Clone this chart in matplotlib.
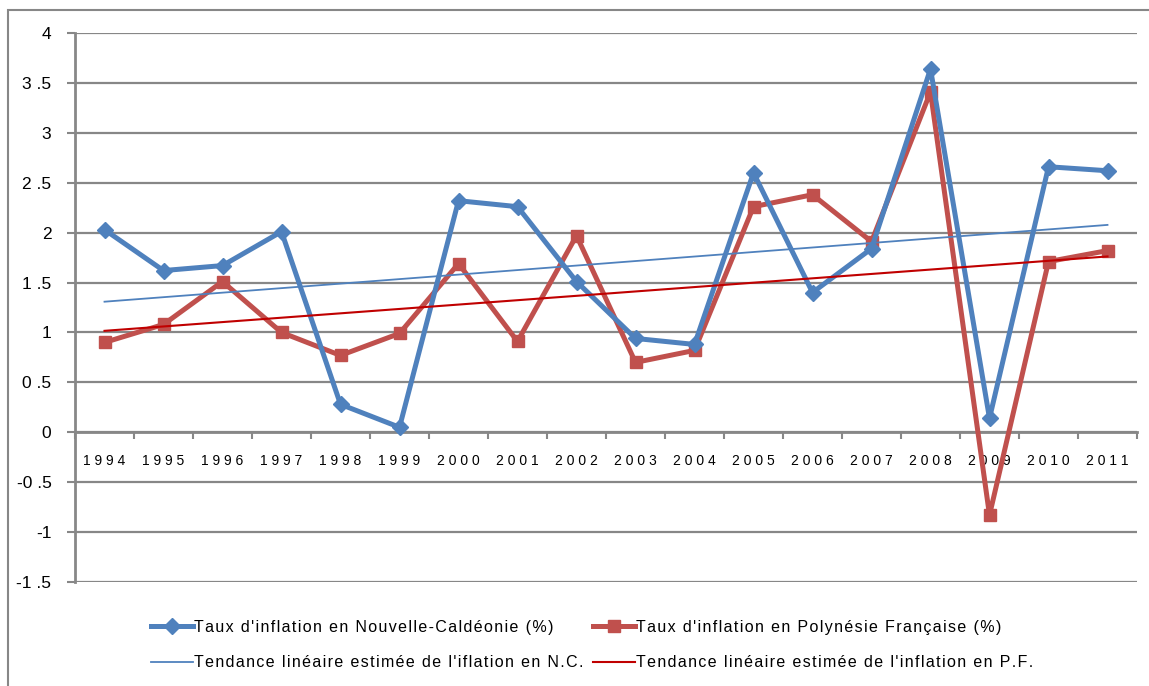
import numpy as np
import matplotlib
matplotlib.use("Agg")
import matplotlib.pyplot as plt
from matplotlib.patches import Rectangle

# data
years = [1994, 1995, 1996, 1997, 1998, 1999, 2000, 2001, 2002,
         2003, 2004, 2005, 2006, 2007, 2008, 2009, 2010, 2011]
nc = [2.03, 1.62, 1.67, 2.01, 0.28, 0.05, 2.32, 2.26, 1.51,
      0.94, 0.88, 2.60, 1.40, 1.84, 3.64, 0.14, 2.66, 2.62]
pf = [0.90, 1.08, 1.51, 1.00, 0.77, 0.99, 1.69, 0.91, 1.97,
      0.70, 0.82, 2.26, 2.38, 1.91, 3.41, -0.83, 1.71, 1.82]
yticks = [-1.5, -1, -0.5, 0, 0.5, 1, 1.5, 2, 2.5, 3, 3.5, 4]

lab_nc = "Taux d'inflation en Nouvelle-Caldéonie (%)"
lab_pf = "Taux d'inflation en Polynésie Française (%)"
lab_tnc = "Tendance linéaire estimée de l'iflation en N.C."
lab_tpf = "Tendance linéaire estimée de l'inflation en P.F."

plt.rcParams['font.family'] = ['Liberation Sans', 'DejaVu Sans']

GRID = '#878787'
BLUE = '#4F81BD'
RED = '#C0504D'
DARKRED = '#C00000'


def spaced(s, sep='\u200a'):
    # excel-like letter spacing
    return sep.join(s)


x = np.arange(len(years))

fig = plt.figure(figsize=(11.49, 6.86), dpi=100)
ax = fig.add_axes([75 / 1149, 1 - 582 / 686, (1137 - 75) / 1149, (582 - 33) / 686])

# linear trends
a_nc, b_nc = np.polyfit(x, nc, 1)
a_pf, b_pf = np.polyfit(x, pf, 1)

l_nc, = ax.plot(x, nc, color=BLUE, lw=3.6, marker='D', ms=8, zorder=4)
l_pf, = ax.plot(x, pf, color=RED, lw=3.6, marker='s', ms=9, zorder=3)
l_tnc, = ax.plot(x, a_nc * x + b_nc, color=BLUE, lw=1.3, zorder=5)
l_tpf, = ax.plot(x, a_pf * x + b_pf, color=DARKRED, lw=1.5, zorder=5)

ax.set_xlim(-0.5, len(years) - 0.5)
ax.set_ylim(-1.5, 4)

ax.set_yticks(yticks)
ax.set_yticklabels([('%g' % v).replace('.', ' .') for v in yticks], fontsize=12.5)
ax.tick_params(axis='y', length=6, width=1.5, color=GRID, pad=11)
ax.yaxis.grid(True, color=GRID, lw=1.6)

ax.set_xticks(x)
ax.set_xticklabels([' '.join(str(y)) for y in years], fontsize=12.5)
ax.set_xticks(np.arange(len(years) + 1) - 0.5, minor=True)
ax.tick_params(axis='x', which='major', length=0, pad=16)
ax.tick_params(axis='x', which='minor', length=5, width=1.5, color=GRID)

for s in ['top', 'right']:
    ax.spines[s].set_visible(False)
ax.spines['left'].set_color(GRID)
ax.spines['left'].set_linewidth(2)
ax.spines['bottom'].set_position(('data', 0))
ax.spines['bottom'].set_color(GRID)
ax.spines['bottom'].set_linewidth(2)

# chart border
fig.patches.append(Rectangle((8 / 1149, -0.2), 1.5, 1.2 - 10 / 686,
                             transform=fig.transFigure, fill=False,
                             edgecolor=GRID, lw=1.5))

handles = [l_nc, l_tnc, l_pf, l_tpf]
labels = [spaced(lab_nc), spaced(lab_tnc), spaced(lab_pf), spaced(lab_tpf)]
fig.legend(handles, labels, loc='center left', ncol=2,
           bbox_to_anchor=(143 / 1149, 1 - 645 / 686), frameon=False,
           fontsize=11.5, handlelength=2.6, handletextpad=0.1,
           columnspacing=0.6, labelspacing=1.3, borderpad=0)

fig.savefig('out.png', dpi=100)
